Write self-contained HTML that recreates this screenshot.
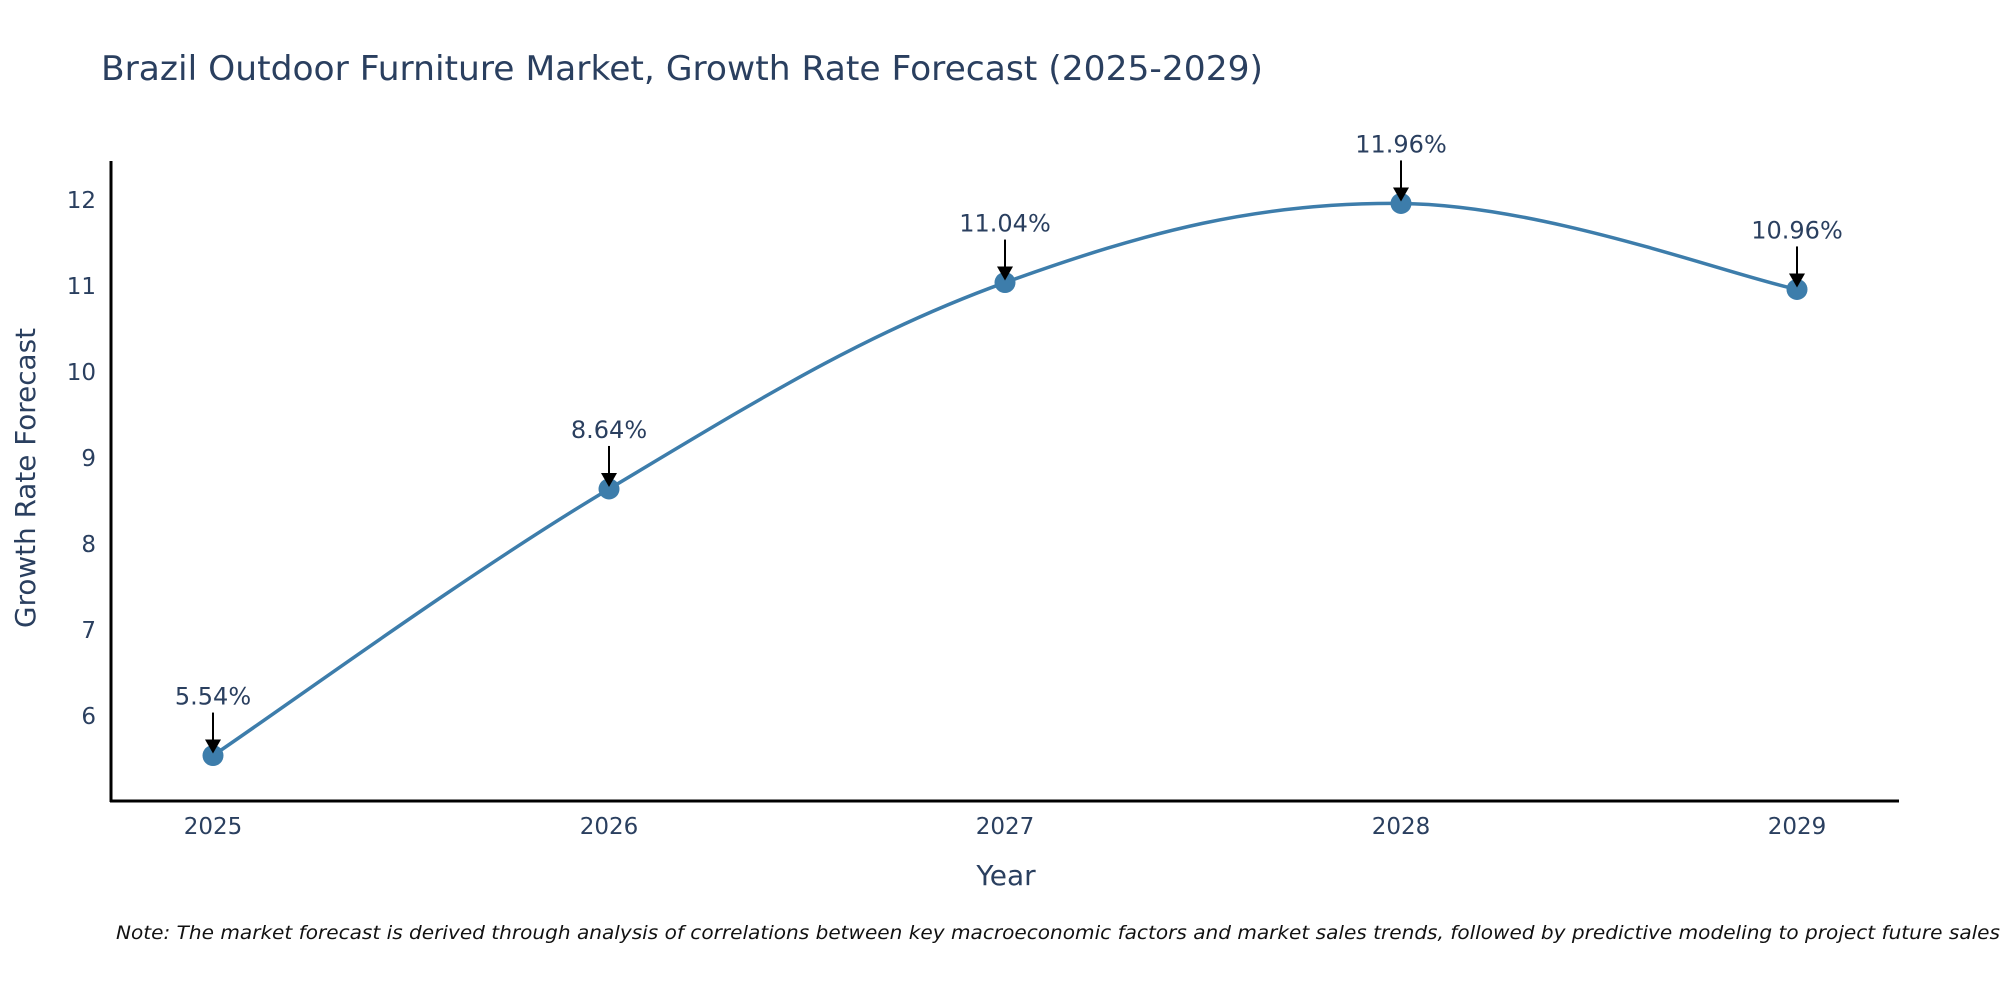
<!DOCTYPE html>
<html><head><meta charset="utf-8"><style>
html,body{margin:0;padding:0;background:#fff;}
svg{display:block;font-family:"DejaVu Sans","Liberation Sans",sans-serif;}
</style></head><body>
<svg id="chart" width="2000" height="1000" viewBox="0 0 2000 1000" xmlns="http://www.w3.org/2000/svg">
<text x="101" y="80" font-size="34" fill="#2a3f5f" textLength="1162" lengthAdjust="spacingAndGlyphs">Brazil Outdoor Furniture Market, Growth Rate Forecast (2025-2029)</text>
<g id="yticks"></g>
<g id="xticks"></g>
<line x1="111" y1="161" x2="111" y2="802" stroke="#000" stroke-width="3"/>
<line x1="110" y1="801" x2="1899" y2="801" stroke="#000" stroke-width="3"/>
<text transform="translate(35,478) rotate(-90)" text-anchor="middle" font-size="28" fill="#2a3f5f" textLength="300" lengthAdjust="spacingAndGlyphs">Growth Rate Forecast</text>
<text x="1006" y="885" text-anchor="middle" font-size="28" fill="#2a3f5f">Year</text>
<g id="series"></g>
<g id="annots"></g>
<text x="116" y="939" font-size="19" font-style="italic" fill="#111" textLength="1884" lengthAdjust="spacingAndGlyphs">Note: The market forecast is derived through analysis of correlations between key macroeconomic factors and market sales trends, followed by predictive modeling to project future sales</text>
</svg>
<script>
const years = [2025, 2026, 2027, 2028, 2029];
const growth = [5.54, 8.64, 11.04, 11.96, 10.96];
const yTicks = [6, 7, 8, 9, 10, 11, 12];
const NS = "http://www.w3.org/2000/svg";
function xs(yr){ return 213 + (yr - 2025) * 396; }
function ys(v){ return 716 - (v - 6) * 86; }
function mk(tag, attrs, parent){ const e=document.createElementNS(NS,tag); for(const k in attrs) e.setAttribute(k,attrs[k]); parent.appendChild(e); return e; }
const yt=document.getElementById('yticks');
yTicks.forEach(t=>{
  const e=mk('text',{x:96,y:ys(t)+8,'text-anchor':'end','font-size':23,fill:'#2a3f5f'},yt);
  
  
  e.textContent=t;
});
const xt=document.getElementById('xticks');
years.forEach(yr=>{
  const e=mk('text',{x:xs(yr),y:834,'text-anchor':'middle','font-size':23,fill:'#2a3f5f'},xt);
  
  
  e.textContent=yr;
});
const pts=years.map((yr,i)=>[xs(yr),ys(growth[i])]);
let d='M'+pts[0][0]+','+pts[0][1];
const s=0.18;
for(let i=0;i<pts.length-1;i++){
  const p0=pts[Math.max(0,i-1)],p1=pts[i],p2=pts[i+1],p3=pts[Math.min(pts.length-1,i+2)];
  const c1=[p1[0]+(p2[0]-p0[0])*s, p1[1]+(p2[1]-p0[1])*s];
  const c2=[p2[0]-(p3[0]-p1[0])*s, p2[1]-(p3[1]-p1[1])*s];
  d+=' C'+c1[0]+','+c1[1]+' '+c2[0]+','+c2[1]+' '+p2[0]+','+p2[1];
}
const sg=document.getElementById('series');
const line=mk('path',{d:d,fill:'none',stroke:'#3d7dab','stroke-width':3.5},sg);


pts.forEach(p=>{
  const c=mk('circle',{cx:p[0],cy:p[1],r:10.5,fill:'#3d7dab'},sg);
  
  
});
const an=document.getElementById('annots');
pts.forEach((p,i)=>{
  const l=mk('line',{x1:p[0],y1:p[1]-43,x2:p[0],y2:p[1]-14,stroke:'#000','stroke-width':2},an);
  
  
  const h=mk('polygon',{points:(p[0]-8)+','+(p[1]-16)+' '+(p[0]+8)+','+(p[1]-16)+' '+p[0]+','+(p[1]-2),fill:'#000'},an);
  
  
  const t=mk('text',{x:p[0],y:p[1]-51,'text-anchor':'middle','font-size':24,fill:'#2a3f5f'},an);
  
  
  t.textContent=growth[i].toFixed(2)+'%';
});
</script>
</body></html>
